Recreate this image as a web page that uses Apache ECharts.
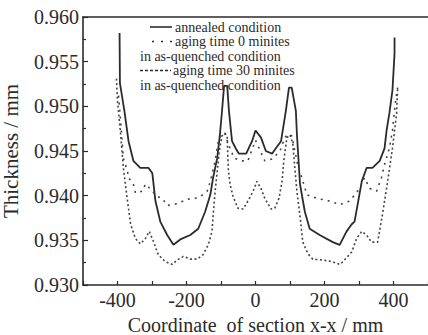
<!DOCTYPE html>
<html><head><meta charset="utf-8">
<script src="https://cdn.jsdelivr.net/npm/echarts@6/dist/echarts.min.js"></script>
<style>html,body{margin:0;padding:0;background:#fff}#c{width:428px;height:335px}</style>
</head><body><div id="c"></div>
<script>
// ---- data ----
const xAxisTitle = 'Coordinate  of section x-x / mm';
const yAxisTitle = 'Thickness / mm';
const seriesNames = ['annealed condition', 'aging time 0 minites in as-quenched condition', 'aging time 30 minites in as-quenched condition'];
const legendLines = ['annealed condition', 'aging time 0 minites', 'in as-quenched condition', 'aging time 30 minites', 'in as-quenched condition'];

const annealedX = [-394,-393,-380,-368,-354,-334,-310,-299,-290,-276,-256,-238,-218,-189,-166,-146,-131,-123,-111,-103,-97,-91,-82,-77,-68,-56,-48,-27,-10,0,16,30,48,59,74,88,97,105,117,120,129,143,157,186,224,244,264,279,287,296,308,322,339,360,374,380,388,397,403,403];
const annealedY = [0.9582,0.9526,0.9495,0.9461,0.9439,0.9431,0.9431,0.9425,0.9394,0.9371,0.9356,0.9345,0.9351,0.9356,0.9363,0.9382,0.9401,0.9420,0.9442,0.9469,0.9495,0.9523,0.9523,0.9495,0.9461,0.9452,0.9447,0.9447,0.9461,0.9473,0.9465,0.9450,0.9447,0.9453,0.9461,0.9495,0.9521,0.9521,0.9495,0.9469,0.9413,0.9382,0.9363,0.9356,0.9348,0.9345,0.9360,0.9368,0.9371,0.9390,0.9416,0.9431,0.9431,0.9439,0.9453,0.9473,0.9492,0.9518,0.9559,0.9577];

const aging0X = [-397,-391,-383,-371,-368,-354,-348,-328,-319,-284,-270,-256,-227,-198,-175,-160,-140,-131,-117,-108,-97,-88,-77,-62,-42,-22,0,27,48,71,85,94,105,114,123,129,149,178,215,244,273,302,316,331,351,365,374,388,397,406,412];
const aging0Y = [0.9512,0.9484,0.9442,0.9427,0.9420,0.9413,0.9403,0.9405,0.9413,0.9399,0.9397,0.9389,0.9391,0.9396,0.9397,0.9399,0.9405,0.9416,0.9439,0.9461,0.9470,0.9469,0.9456,0.9442,0.9439,0.9439,0.9462,0.9439,0.9441,0.9450,0.9465,0.9469,0.9467,0.9450,0.9433,0.9427,0.9401,0.9397,0.9394,0.9390,0.9394,0.9408,0.9420,0.9408,0.9405,0.9420,0.9435,0.9453,0.9473,0.9506,0.9521];

const aging30X = [-403,-400,-391,-383,-371,-362,-348,-334,-319,-308,-296,-282,-261,-241,-227,-209,-189,-169,-152,-137,-126,-123,-117,-111,-105,-97,-88,-82,-79,-74,-65,-51,-36,-22,-7,4,16,27,45,56,68,77,82,91,100,108,114,120,129,137,152,166,195,224,244,253,279,293,308,322,336,354,368,383,397,409,412];
const aging30Y = [0.9531,0.9506,0.9469,0.9431,0.9394,0.9368,0.9352,0.9346,0.9352,0.9360,0.9349,0.9334,0.9326,0.9323,0.9328,0.9332,0.9329,0.9329,0.9334,0.9345,0.9360,0.9377,0.9405,0.9427,0.9450,0.9467,0.9470,0.9465,0.9431,0.9413,0.9399,0.9386,0.9385,0.9394,0.9405,0.9416,0.9408,0.9397,0.9385,0.9386,0.9397,0.9416,0.9439,0.9465,0.9468,0.9458,0.9431,0.9405,0.9377,0.9348,0.9335,0.9329,0.9328,0.9326,0.9323,0.9326,0.9337,0.9352,0.9360,0.9356,0.9348,0.9348,0.9379,0.9416,0.9453,0.9492,0.9520];

const xTickLabels = [-400, -200, 0, 200, 400];

// ---- chart ----
const FONT = "'Liberation Serif', serif";
const INK = '#2b2b2b';
function pairs(xs, ys) { return xs.map((x, i) => [x, ys[i]]); }

const chart = echarts.init(document.getElementById('c'), null, {renderer: 'svg'});
const lgTop = 27, lgStep = 14.5, lgFont = 14;
const indents = ['{i1| }', '{i1| }', '', '{i2| }', ''];
const legendText = legendLines.map((t, i) => indents[i] + '{t|' + t + '}').join('\n');
const legendGraphics = [
  {type: 'text', x: 140, y: lgTop - lgStep / 2,
    style: {text: legendText, fill: INK, fontFamily: FONT, fontSize: lgFont, lineHeight: lgStep,
      verticalAlign: 'top', align: 'left',
      rich: {
        t: {fontFamily: FONT, fontSize: lgFont, lineHeight: lgStep, fill: INK},
        i1: {width: 35, lineHeight: lgStep, fontSize: lgFont},
        i2: {width: 33, lineHeight: lgStep, fontSize: lgFont}
      }}},
  {type: 'line', shape: {x1: 150, y1: lgTop, x2: 172, y2: lgTop}, style: {stroke: INK, lineWidth: 1.6}},
  {type: 'line', shape: {x1: 152, y1: lgTop + lgStep, x2: 172, y2: lgTop + lgStep}, style: {stroke: INK, lineWidth: 1.6, lineDash: [2, 7]}},
  {type: 'line', shape: {x1: 140, y1: lgTop + 3 * lgStep, x2: 171, y2: lgTop + 3 * lgStep}, style: {stroke: INK, lineWidth: 1.4, lineDash: [3, 2]}}
];

chart.setOption({
  animation: false,
  backgroundColor: '#fff',
  grid: {left: 83, right: 0, top: 17, bottom: 50, outerBoundsMode: 'none', containLabel: false},
  xAxis: [{
    type: 'value', min: -500, max: 500, interval: 100,
    axisLine: {onZero: false, lineStyle: {color: INK, width: 1.6}},
    axisTick: {inside: true, length: 4, lineStyle: {color: INK, width: 1.2}},
    axisLabel: {fontFamily: FONT, fontSize: 20, color: INK, margin: 5,
      formatter: v => xTickLabels.indexOf(v) >= 0 ? String(v) : ''},
    splitLine: {show: false},
    name: xAxisTitle, nameLocation: 'middle', nameGap: 21,
    nameTextStyle: {fontFamily: FONT, fontSize: 20, color: INK}
  }, {
    type: 'value', position: 'top', min: -500, max: 500,
    axisLine: {show: true, onZero: false, lineStyle: {color: INK, width: 1.6}},
    axisTick: {show: false}, axisLabel: {show: false}, splitLine: {show: false}
  }],
  yAxis: {
    type: 'value', min: 0.93, max: 0.96, interval: 0.005,
    axisLine: {show: true, onZero: false, lineStyle: {color: INK, width: 1.6}},
    axisTick: {inside: true, length: 5, lineStyle: {color: INK, width: 1.2}},
    minorTick: {show: true, splitNumber: 2, length: 3, lineStyle: {color: INK, width: 1.2}},
    axisLabel: {fontFamily: FONT, fontSize: 20, color: INK, margin: 4, formatter: v => v.toFixed(3)},
    splitLine: {show: false},
    name: yAxisTitle, nameLocation: 'middle', nameGap: 62, nameRotate: 90,
    nameTextStyle: {fontFamily: FONT, fontSize: 21, color: INK}
  },
  graphic: legendGraphics,
  series: [
    {name: seriesNames[0], type: 'line', data: pairs(annealedX, annealedY), showSymbol: false,
      lineStyle: {color: INK, width: 1.8}},
    {name: seriesNames[1], type: 'line', data: pairs(aging0X, aging0Y), showSymbol: false,
      lineStyle: {color: '#444', width: 1.6, type: [2, 5]}},
    {name: seriesNames[2], type: 'line', data: pairs(aging30X, aging30Y), showSymbol: false,
      lineStyle: {color: '#444', width: 1.6, type: [2, 2.5]}}
  ]
});
</script></body></html>
